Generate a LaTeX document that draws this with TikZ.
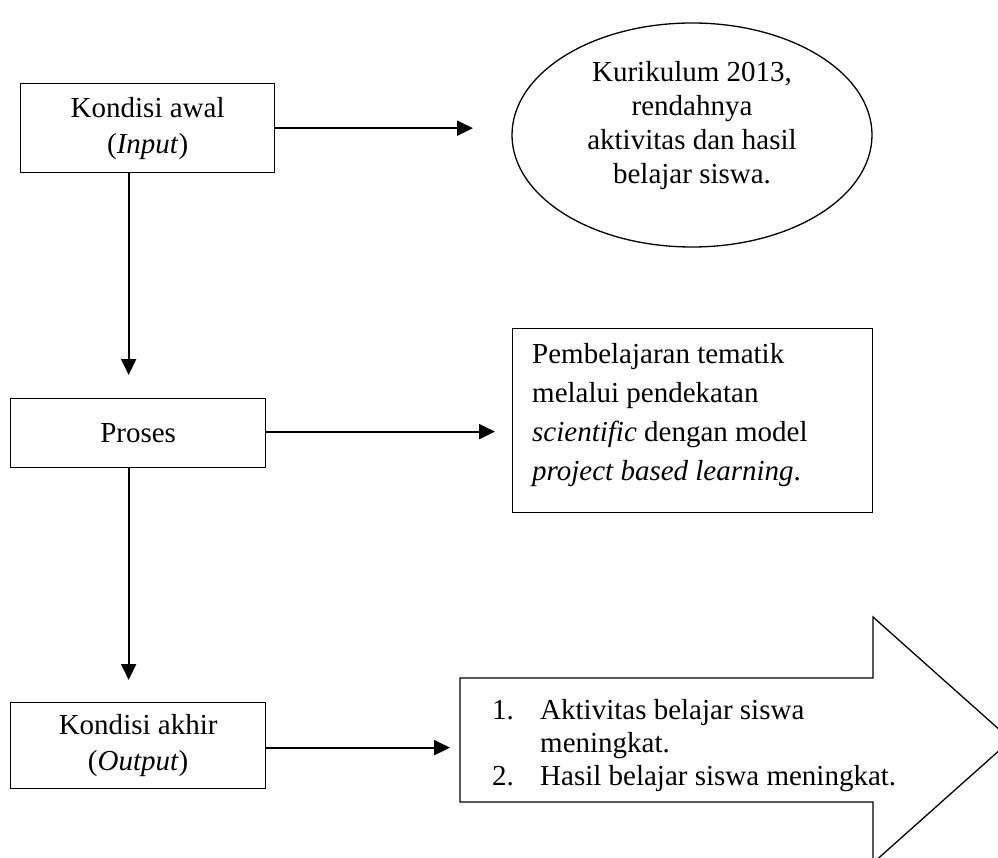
\documentclass[tikz,border=0pt]{standalone}
\usepackage{fontspec}
\setmainfont{Liberation Serif}
\usetikzlibrary{arrows.meta}
\begin{document}
\begin{tikzpicture}[x=1pt,y=-1pt,
  box/.style={draw, line width=1.3pt, inner sep=0pt},
  conn/.style={line width=2pt, -{Triangle[length=16pt,width=15pt]}},
  txt/.style={font=\fontsize{29}{36}\selectfont, align=center},
  ltxt/.style={font=\fontsize{29}{35}\selectfont, anchor=base west, inner sep=0pt}]
\useasboundingbox (0,0) rectangle (998,858);
\clip (0,0) rectangle (998,858);

% left column boxes
\node[box, txt, anchor=north west, minimum width=254pt, minimum height=89pt] (awal) at (20,83)
  {Kondisi awal\\(\textit{Input})};
\node[box, txt, anchor=north west, minimum width=255pt, minimum height=69pt] (proses) at (10,398)
  {Proses};
\node[box, txt, anchor=north west, minimum width=255pt, minimum height=86pt] (akhir) at (10,702)
  {Kondisi akhir\\(\textit{Output})};

% ellipse
\draw[line width=1.3pt] (692,135) ellipse [x radius=180, y radius=112];
\coordinate (ellw) at (512,135);
\node[font=\fontsize{29}{34}\selectfont, align=center, inner sep=0pt] (elltxt) at (692,126)
  {Kurikulum 2013,\\rendahnya\\aktivitas dan hasil\\belajar siswa.};

% process description box
\node[box, anchor=north west, minimum width=360pt, minimum height=184pt] (pemb) at (512,328) {};
\node[font=\fontsize{29}{39}\selectfont, align=left, anchor=north west, inner sep=0pt] (pembtxt) at (532,343)
  {Pembelajaran tematik\\melalui pendekatan\\\textit{scientific} dengan model\\\textit{project based learning}.};

% block arrow
\draw[line width=1.3pt] (460,678) -- (873,678) -- (873,617) -- (1011,740) -- (873,863)
  -- (873,802) -- (460,802) -- cycle;
\coordinate (blkw) at (460,740);
\node[ltxt] (n1) at (492,719) {1.};
\node[ltxt] (t1) at (540,719) {Aktivitas belajar siswa};
\node[ltxt] (t1b) at (540,752) {meningkat.};
\node[ltxt] (n2) at (492,785) {2.};
\node[ltxt] (t2) at (540,785) {Hasil belajar siswa meningkat.};

% connectors
\draw[conn, shorten >=39pt] (awal.east) -- (awal.east -| ellw);
\draw[conn, shorten >=23pt] ([xshift=-19pt]awal.south) -- ([xshift=-19pt]awal.south |- proses.north);
\draw[conn, shorten >=17pt] ([yshift=1.5pt]proses.east) -- ([yshift=1.5pt]proses.east -| pemb.west);
\draw[conn, shorten >=22pt] ([xshift=-9.5pt]proses.south) -- ([xshift=-9.5pt]proses.south |- akhir.north);
\draw[conn, shorten >=10pt] ([yshift=-2pt]akhir.east) -- ([yshift=-2pt]akhir.east -| blkw);
\end{tikzpicture}
\end{document}
